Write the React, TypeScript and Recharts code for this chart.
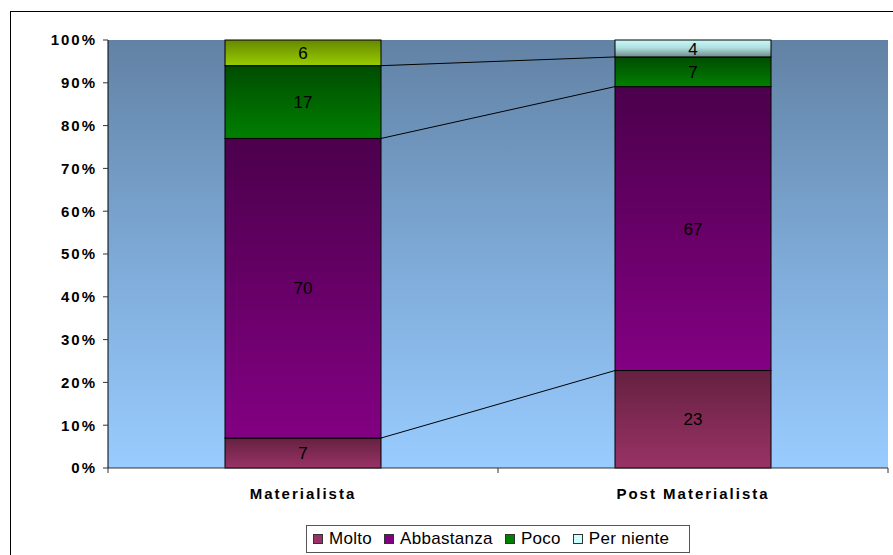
import React from 'react';
import { BarChart, Bar, XAxis, YAxis, CartesianGrid, Legend, LabelList, Cell } from 'recharts';

const categories = ['Materialista', 'Post Materialista'];
const molto = [7, 23];
const abbastanza = [70, 67];
const poco = [17, 7];
const perNiente = [6, 4];
const seriesKeys = ['Molto', 'Abbastanza', 'Poco', 'Per niente'];
const yTicks = [0, 0.1, 0.2, 0.3, 0.4, 0.5, 0.6, 0.7, 0.8, 0.9, 1];

const seriesValues = [molto, abbastanza, poco, perNiente];
const data = categories.map((name, i) => ({
  name,
  Molto: molto[i],
  Abbastanza: abbastanza[i],
  Poco: poco[i],
  'Per niente': perNiente[i],
}));

const FONT = '"Liberation Sans", Arial, sans-serif';
const GAP = 0.3;

// gradient ids per series per category
const fillIds = [
  ['gMolto', 'gMolto'],
  ['gAbb', 'gAbb'],
  ['gPoco', 'gPoco'],
  ['gYel', 'gCyan'],
];
const legendColors = ['#993366', '#800080', '#008000', '#CCFFFF'];

const rowTotal = (i: number) => seriesValues.reduce((s, arr) => s + arr[i], 0);
const cum = (i: number, k: number) => {
  let s = 0;
  for (let j = 0; j <= k; j++) s += seriesValues[j][i];
  return s;
};

const makeShape = (k: number) => (props: any) => {
  const { x, y, width, height, index } = props;
  const fill = `url(#${fillIds[k][index]})`;
  let line = null;
  if (index === 0 && k < seriesKeys.length - 1 && height > 0) {
    const lo0 = (k === 0 ? 0 : cum(0, k - 1)) / rowTotal(0);
    const hi0 = cum(0, k) / rowTotal(0);
    const hi1 = cum(1, k) / rowTotal(1);
    const pxPerUnit = height / (hi0 - lo0);
    const yBottom = y + height;
    const y2 = yBottom - (hi1 - lo0) * pxPerUnit;
    const band = width / (1 - 2 * GAP);
    line = <line x1={x + width} y1={y} x2={x + band} y2={y2} stroke="#000" strokeWidth={1} />;
  }
  return (
    <g>
      <rect x={x} y={y} width={width} height={height} fill={fill} stroke="#000" strokeWidth={1} />
      {line}
    </g>
  );
};

const YTick = (props: any) => {
  const { x, y, payload } = props;
  return (
    <text x={x} y={y} dy="0.36em" textAnchor="end" fontFamily={FONT} fontSize={15} fontWeight="bold" fill="#000" style={{ letterSpacing: '2px' }}>
      {`${Math.round(payload.value * 100)}%`}
    </text>
  );
};

const XTick = (props: any) => {
  const { x, y, payload, index, visibleTicksCount } = props;
  const off = payload && payload.offset ? payload.offset : 195;
  return (
    <g>
      <line x1={x - off} y1={y} x2={x - off} y2={y + 5} stroke="#333" />
      {index === (visibleTicksCount ?? 2) - 1 ? <line x1={x + off} y1={y} x2={x + off} y2={y + 5} stroke="#333" /> : null}
      <text x={x} y={y + 26} dy="0.36em" textAnchor="middle" fontFamily={FONT} fontSize={15} fontWeight="bold" fill="#000" style={{ letterSpacing: '2px' }}>
        {payload.value}
      </text>
    </g>
  );
};

const renderLegend = () => (
  <div
    style={{
      boxSizing: 'border-box',
      height: 28,
      width: 384,
      border: '1px solid #555',
      background: '#fff',
      display: 'flex',
      alignItems: 'center',
      paddingLeft: 6,
      fontFamily: FONT,
      fontSize: 17,
      color: '#000',
      whiteSpace: 'nowrap',
    }}
  >
    {seriesKeys.map((k, i) => (
      <div key={k} style={{ display: 'flex', alignItems: 'center', marginRight: 12 }}>
        <span
          style={{
            display: 'inline-block',
            width: 8,
            height: 8,
            background: legendColors[i],
            border: '1px solid #333',
            marginRight: 6,
          }}
        />
        <span style={{ letterSpacing: '0.3px' }}>{k}</span>
      </div>
    ))}
  </div>
);

export default function App() {
  return (
    <div style={{ position: 'absolute', left: 0, top: 0, width: 893, height: 555, overflow: 'hidden', background: '#fff' }}>
      <svg width={0} height={0} style={{ position: 'absolute' }}>
        <defs>
          <linearGradient id="bgGrad" x1="0" y1="0" x2="0" y2="1">
            <stop offset="0%" stopColor="#6282A4" />
            <stop offset="50%" stopColor="#7DA9D6" />
            <stop offset="100%" stopColor="#99CCFF" />
          </linearGradient>
          <linearGradient id="gMolto" x1="0" y1="0" x2="0" y2="1">
            <stop offset="0%" stopColor="#652040" />
            <stop offset="100%" stopColor="#993366" />
          </linearGradient>
          <linearGradient id="gAbb" x1="0" y1="0" x2="0" y2="1">
            <stop offset="0%" stopColor="#4C004C" />
            <stop offset="100%" stopColor="#830083" />
          </linearGradient>
          <linearGradient id="gPoco" x1="0" y1="0" x2="0" y2="1">
            <stop offset="0%" stopColor="#004C00" />
            <stop offset="100%" stopColor="#008000" />
          </linearGradient>
          <linearGradient id="gYel" x1="0" y1="0" x2="0" y2="1">
            <stop offset="0%" stopColor="#668800" />
            <stop offset="100%" stopColor="#99CC00" />
          </linearGradient>
          <linearGradient id="gCyan" x1="0" y1="0" x2="0" y2="1">
            <stop offset="0%" stopColor="#C8FAFA" />
            <stop offset="45%" stopColor="#B0E0E0" />
            <stop offset="100%" stopColor="#6E8A8A" />
          </linearGradient>
        </defs>
      </svg>
      <div style={{ position: 'absolute', left: 10, top: 11, width: 920, height: 620, border: '1px solid #000', boxSizing: 'border-box' }} />
      <div style={{ position: 'absolute', left: 0, top: 0 }}>
        <BarChart
          width={893}
          height={555}
          data={data}
          stackOffset="expand"
          barCategoryGap={`${GAP * 100}%`}
          margin={{ top: 40, right: 5, bottom: 9, left: 0 }}
        >
          <CartesianGrid horizontal={false} vertical={false} fill="url(#bgGrad)" stroke="none" />
          <XAxis
            dataKey="name"
            height={50}
            axisLine={{ stroke: '#333' }}
            tickLine={false}
            tickSize={0}
            tickMargin={0}
            tick={<XTick />}
            interval={0}
          />
          <XAxis xAxisId="top" dataKey="name" orientation="top" height={0} axisLine={{ stroke: '#808080' }} tick={false} tickLine={false} />
          <YAxis
            width={108}
            domain={[0, 1]}
            ticks={yTicks}
            interval={0}
            axisLine={{ stroke: '#000' }}
            tickLine={{ stroke: '#333' }}
            tickSize={5}
            tickMargin={6}
            tick={<YTick />}
          />
          <YAxis yAxisId="right" orientation="right" width={0} domain={[0, 1]} axisLine={{ stroke: '#808080' }} tick={false} tickLine={false} />
          {seriesKeys.map((k, i) => (
            <Bar key={k} dataKey={k} stackId="a" isAnimationActive={false} fill={legendColors[i]} shape={makeShape(i)}>
              {data.map((d, j) => (
                <Cell key={j} fill={legendColors[i]} />
              ))}
              <LabelList dataKey={k} position="center" fill="#000" fontSize={17} fontFamily={FONT} />
            </Bar>
          ))}
          <Legend content={renderLegend} wrapperStyle={{ left: 306, top: 525, width: 384, height: 28 }} />
        </BarChart>
      </div>
    </div>
  );
}
